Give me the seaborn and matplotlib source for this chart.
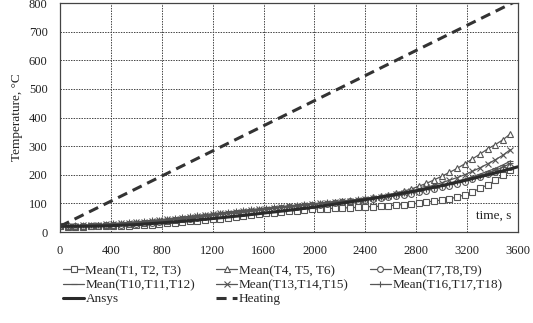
import numpy as np
import pandas as pd
import matplotlib
matplotlib.use("Agg")
import matplotlib.pyplot as plt
import seaborn as sns

# measured means, every 60 s from 0 to 3540 s
t_exp = list(range(0, 3600, 60))

t1_t3 = [20, 19, 19, 19, 20, 20, 20, 21, 21, 22,
         23, 24, 26, 28, 30, 32, 35, 37, 40, 42,
         45, 47, 50, 53, 56, 59, 62, 65, 68, 70,
         73, 75, 77, 79, 81, 82, 83, 84, 85, 86,
         88, 89, 90, 92, 94, 96, 98, 101, 105, 108,
         112, 116, 122, 130, 140, 152, 165, 180, 198, 215]
t4_t6 = [20, 20, 21, 21, 22, 23, 24, 25, 27, 28,
         30, 32, 35, 37, 40, 43, 46, 49, 52, 55,
         58, 61, 64, 67, 70, 73, 76, 79, 82, 85,
         88, 90, 93, 96, 99, 101, 104, 107, 110, 113,
         117, 121, 125, 130, 136, 143, 150, 160, 170, 182,
         195, 208, 222, 238, 255, 272, 290, 305, 322, 343]
t7_t9 = [20, 20, 20, 21, 21, 22, 23, 24, 25, 27,
         29, 31, 33, 35, 38, 41, 44, 47, 50, 53,
         56, 59, 62, 65, 68, 71, 74, 77, 80, 83,
         86, 88, 91, 94, 96, 99, 101, 104, 107, 110,
         113, 116, 119, 122, 126, 130, 134, 139, 144, 150,
         156, 162, 169, 176, 184, 192, 201, 210, 219, 228]
t10_t12 = [20, 21, 21, 22, 23, 24, 25, 26, 28, 29,
           31, 33, 36, 38, 41, 44, 47, 50, 53, 56,
           59, 62, 65, 68, 71, 74, 77, 80, 83, 86,
           89, 92, 95, 97, 100, 103, 106, 108, 111, 114,
           117, 120, 124, 128, 132, 136, 141, 146, 151, 157,
           163, 170, 177, 185, 193, 202, 212, 222, 234, 248]
t13_t15 = [20, 21, 22, 23, 24, 25, 27, 28, 30, 32,
           34, 36, 39, 41, 44, 47, 50, 53, 56, 59,
           62, 65, 68, 70, 73, 76, 79, 82, 84, 87,
           90, 92, 95, 97, 100, 102, 105, 107, 110, 113,
           116, 119, 123, 127, 132, 137, 143, 149, 156, 164,
           172, 181, 190, 200, 212, 224, 238, 252, 268, 288]
t16_t18 = [21, 22, 23, 24, 25, 26, 28, 30, 32, 34,
           36, 38, 41, 43, 46, 49, 52, 55, 58, 61,
           64, 67, 70, 73, 76, 79, 81, 84, 87, 89,
           92, 94, 97, 99, 101, 104, 106, 109, 111, 114,
           117, 120, 123, 127, 131, 135, 139, 144, 149, 155,
           161, 167, 174, 181, 189, 197, 206, 215, 226, 240]

# simulation
t_ansys = list(range(0, 3800, 200))
ansys = [20, 20, 22, 26, 32, 39, 47, 56, 66, 76,
         87, 100, 113, 128, 144, 162, 182, 204, 228]

# furnace heating
t_heat = [0, 3600]
heating = [20, 810]

sns.set_style("white")
plt.rcParams['font.family'] = ['Liberation Serif', 'DejaVu Serif']

fig = plt.figure(figsize=(5.33, 3.23), dpi=100)
ax = fig.add_axes([0.1126, 0.2817, 0.8594, 0.709])

mk = dict(markersize=4.2, markerfacecolor='white', markeredgecolor='#555555',
          markeredgewidth=0.8, linewidth=0.9, color='#555555')

series = [
    ("Mean(T1, T2, T3)", t1_t3, 's'),
    ("Mean(T4, T5, T6)", t4_t6, '^'),
    ("Mean(T7,T8,T9)", t7_t9, 'o'),
    ("Mean(T10,T11,T12)", t10_t12, '_'),
    ("Mean(T13,T14,T15)", t13_t15, 'x'),
    ("Mean(T16,T17,T18)", t16_t18, '+'),
]
for label, vals, m in series:
    sns.lineplot(x=t_exp, y=vals, ax=ax, marker=m, label=label, **mk)

sns.lineplot(x=t_ansys, y=ansys, ax=ax, color='#2a2a2a', linewidth=2.2, label="Ansys")
sns.lineplot(x=t_heat, y=heating, ax=ax, color='#333333', linewidth=2.2, label="Heating")
ax.lines[-1].set_dashes((3.3, 2.0))

ax.set_xlim(0, 3600)
ax.set_ylim(0, 800)
ax.set_xticks(range(0, 3601, 400))
ax.set_yticks(range(0, 801, 100))
ax.tick_params(labelsize=9, length=2, pad=7, color='#333333', labelcolor='#222222')
ax.grid(True, color='#444444', linestyle=(0, (1.5, 1.2)), linewidth=0.7)
for s in ax.spines.values():
    s.set_color('#444444')
    s.set_linewidth(0.9)
ax.set_xlabel("")
ax.set_ylabel("Temperature, °C", fontsize=9.5, color='#222222', labelpad=4)
ax.text(0.985, 0.045, "time, s", transform=ax.transAxes, ha='right', va='bottom',
        fontsize=9.5, color='#222222',
        bbox=dict(facecolor='white', edgecolor='none', pad=1))

h, l = ax.get_legend_handles_labels()
order = [0, 3, 6, 1, 4, 7, 2, 5]
ax.legend([h[i] for i in order], [l[i] for i in order], ncol=3, loc='upper left',
          bbox_to_anchor=(-0.005, -0.12), frameon=False, fontsize=9.5,
          handlelength=1.6, handletextpad=0.1, columnspacing=1.6,
          labelspacing=0.15, borderaxespad=0)

fig.savefig("out.png", dpi=100)
